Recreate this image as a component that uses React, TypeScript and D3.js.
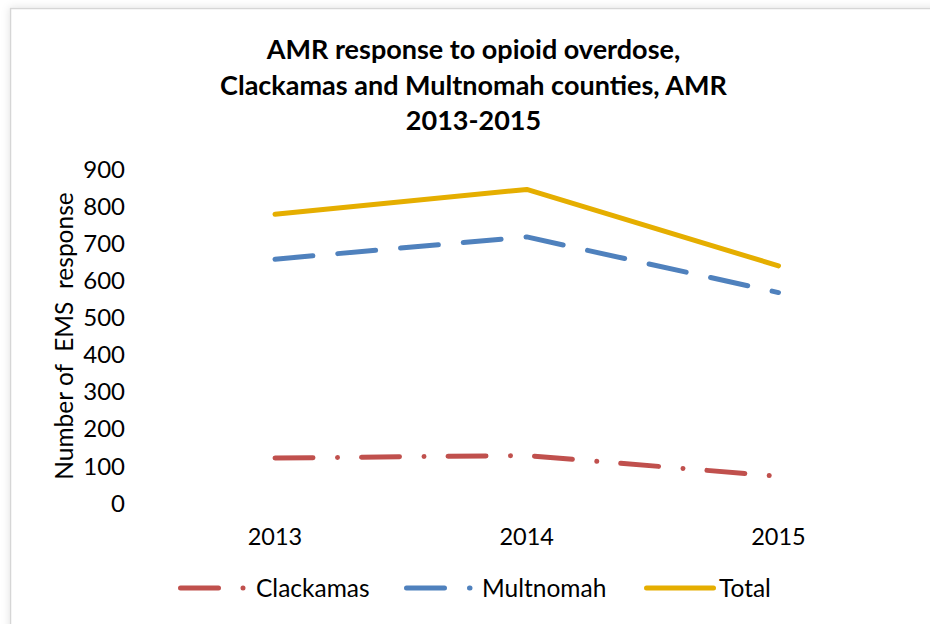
import React from 'react';
import * as d3 from 'd3';

const years = ['2013', '2014', '2015'];
const clackamas = [121, 128, 72];
const multnomah = [657, 717, 567];
const total = [778, 845, 639];
const yTicks = [0, 100, 200, 300, 400, 500, 600, 700, 800, 900];
const seriesNames = ['Clackamas', 'Multnomah', 'Total'];
const titleLines = [
  'AMR response to opioid overdose,',
  'Clackamas and Multnomah counties, AMR',
  '2013-2015',
];
const yAxisTitle = 'Number of  EMS  response';

const W = 930;
const H = 624;
const FONT = 'Lato, "Open Sans", sans-serif';

export default function App() {
  const x = d3.scalePoint<string>().domain(years).range([275, 778.5]);
  const y = d3.scaleLinear().domain([0, 900]).range([503, 169]);

  const series = [
    { name: seriesNames[0], values: clackamas, color: '#C0504D', dash: '38 24.5 0.01 24' },
    { name: seriesNames[1], values: multnomah, color: '#4F81BD', dash: '38 25' },
    { name: seriesNames[2], values: total, color: '#E5AE00', dash: undefined as string | undefined },
  ];

  const line = d3
    .line<number>()
    .x((_, i) => x(years[i]) as number)
    .y((d) => y(d));

  const legendItems = [
    { x0: 180.5, x1: 243.5, tx: 256 },
    { x0: 406.5, x1: 470, tx: 482 },
    { x0: 646.5, x1: 713.5, tx: 719 },
  ];
  const legendY = 588;

  return (
    <svg
      width={W}
      height={H}
      style={{ position: 'absolute', left: 0, top: 0, background: '#fff' }}
    >
      <defs>
        <filter id="shadow" x="-5%" y="-5%" width="110%" height="110%">
          <feDropShadow dx="0" dy="0" stdDeviation="4" floodColor="#000" floodOpacity="0.12" />
        </filter>
      </defs>
      <rect x={0} y={0} width={W} height={H} fill="#fff" />
      <rect
        x={10.5}
        y={8.5}
        width={1000}
        height={1000}
        fill="#fff"
        stroke="#d6d6d6"
        strokeWidth={1.5}
        filter="url(#shadow)"
      />

      {/* Title */}
      <g fontFamily={FONT} fontWeight="bold" fontSize={27} fill="#000" textAnchor="middle">
        {titleLines.map((t, i) => (
          <text key={i} x={473.5} y={59 + i * 35.5}>
            {t}
          </text>
        ))}
      </g>

      {/* Y tick labels */}
      <g fontFamily={FONT} fontSize={24} fill="#000" textAnchor="end">
        {yTicks.map((v) => (
          <text key={v} x={125} y={y(v)} dy="0.36em">
            {v}
          </text>
        ))}
      </g>

      {/* Y axis title */}
      <text
        transform={`translate(73,336) rotate(-90)`}
        fontFamily={FONT}
        fontSize={24.5}
        fill="#000"
        textAnchor="middle"
        style={{ whiteSpace: 'pre' }}
      >
        {yAxisTitle}
      </text>

      {/* X labels */}
      <g fontFamily={FONT} fontSize={23.5} fill="#000" textAnchor="middle">
        {years.map((yr) => (
          <text key={yr} x={x(yr)} y={537} dy="0.36em">
            {yr}
          </text>
        ))}
      </g>

      {/* Lines */}
      {series.map((s) => (
        <path
          key={s.name}
          d={line(s.values) || ''}
          fill="none"
          stroke={s.color}
          strokeWidth={5}
          strokeLinecap="round"
          strokeLinejoin="round"
          strokeDasharray={s.dash}
        />
      ))}

      {/* Legend */}
      <g fontFamily={FONT} fontSize={24.5} fill="#000">
        {series.map((s, i) => (
          <g key={s.name}>
            <line
              x1={legendItems[i].x0}
              x2={legendItems[i].x1}
              y1={legendY}
              y2={legendY}
              stroke={s.color}
              strokeWidth={5}
              strokeLinecap="round"
              strokeDasharray={s.dash}
            />
            <text x={legendItems[i].tx} y={legendY} dy="0.36em">
              {s.name}
            </text>
          </g>
        ))}
      </g>
    </svg>
  );
}
